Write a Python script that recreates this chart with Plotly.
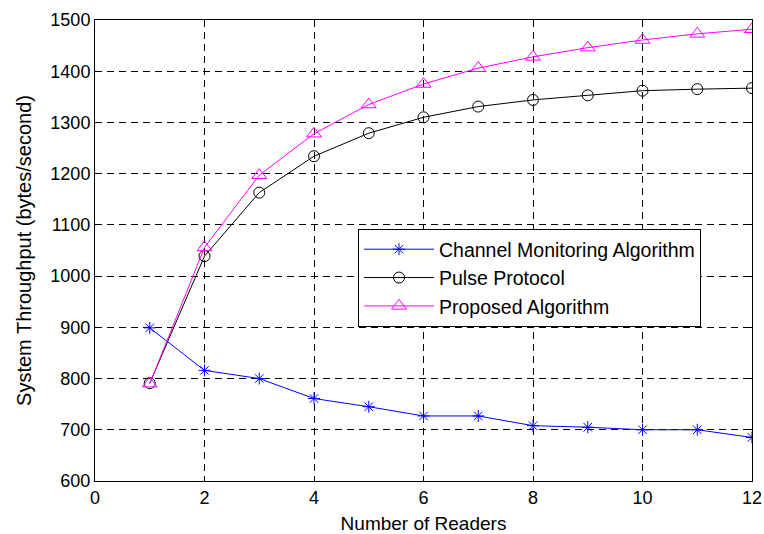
import plotly.graph_objects as go

readers = list(range(1, 13))
channel_monitoring = [899, 816, 800, 761, 745, 727, 727, 708, 705, 700, 700, 685]
pulse_protocol = [791, 1039, 1163, 1234, 1279, 1310, 1331, 1344, 1353, 1362, 1365, 1367]
proposed = [790, 1056, 1197, 1278, 1335, 1375, 1406, 1428, 1446, 1461, 1473, 1482]

FONT = "Liberation Sans"

fig = go.Figure()
fig.add_trace(go.Scatter(x=readers, y=channel_monitoring, mode="lines+markers",
                         name="Channel Monitoring Algorithm",
                         line=dict(color="#0000FF", width=1),
                         marker=dict(symbol="asterisk-open", size=10,
                                     line=dict(color="#0000FF", width=1))))
fig.add_trace(go.Scatter(x=readers, y=pulse_protocol, mode="lines+markers",
                         name="Pulse Protocol",
                         line=dict(color="#000000", width=1),
                         marker=dict(symbol="circle-open", size=11,
                                     line=dict(color="#000000", width=1))))
fig.add_trace(go.Scatter(x=readers, y=proposed, mode="lines+markers",
                         name="Proposed Algorithm",
                         line=dict(color="#FF00FF", width=1),
                         marker=dict(symbol="triangle-up-open", size=13,
                                     line=dict(color="#FF00FF", width=1))))

axis_common = dict(showline=True, linecolor="black", linewidth=1, mirror="ticks",
                   ticks="inside", ticklen=5, tickcolor="black", automargin=False,
                   showgrid=True, gridcolor="black", griddash="7px,5px", gridwidth=1,
                   zeroline=False, tickfont=dict(family=FONT, size=18, color="black"))

fig.update_xaxes(range=[0, 12], dtick=2, tick0=0,
                 title=dict(text="Number of Readers", font=dict(family=FONT, size=19, color="black"), standoff=10),
                 **axis_common)
fig.update_yaxes(range=[600, 1500], dtick=100, tick0=600,
                 title=dict(text="System Throughput (bytes/second)", font=dict(family=FONT, size=20, color="black"), standoff=13),
                 **axis_common)

fig.update_layout(
    width=764, height=534,
    margin=dict(l=95, r=12, t=20, b=53, autoexpand=False),
    paper_bgcolor="white", plot_bgcolor="white",
    font=dict(family=FONT, size=18, color="black"),
    legend=dict(x=0.4003, y=0.5466, xanchor="left", yanchor="top",
                bgcolor="white", bordercolor="black", borderwidth=1,
                font=dict(family=FONT, size=19.5, color="black"),
                itemwidth=70, tracegroupgap=0),
    showlegend=True,
)

fig.write_html("out.html",
               config={"displayModeBar": False},
               post_script="document.body.style.margin='0';document.documentElement.style.overflow='hidden';")
